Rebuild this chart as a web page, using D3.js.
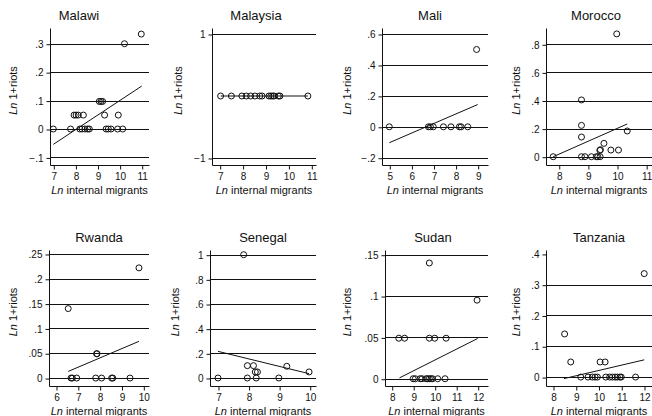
<!DOCTYPE html>
<html><head><meta charset="utf-8">
<script src="https://cdn.jsdelivr.net/npm/d3@7"></script>
<style>
body{margin:0;background:#fff;}
svg{display:block;font-family:"Liberation Sans",Arial,sans-serif;}
</style></head>
<body><svg id="c" width="652" height="416"></svg>
<script>
// ---- data ----
const countries = ["Malawi","Malaysia","Mali","Morocco","Rwanda","Senegal","Sudan","Tanzania"];

const malawiX = [7.0,7.78,8.2,8.3,8.43,8.55,8.63,9.39,9.49,9.61,9.91,10.14,7.94,8.03,8.13,8.36,9.32,9.94,9.08,9.16,9.23,10.22,10.98];
const malawiY = [0,0,0,0,0,0,0,0,0,0,0,0,0.049,0.049,0.049,0.049,0.049,0.049,0.097,0.097,0.097,0.3,0.334];
const malaysiaX = [7.04,7.51,7.97,8.16,8.35,8.54,8.75,8.85,9.15,9.23,9.31,9.37,9.56,9.63,10.85];
const malaysiaY = [0,0,0,0,0,0,0,0,0,0,0,0,0,0,0];
const maliX = [5.0,6.77,6.86,6.99,7.45,7.79,8.17,8.25,8.55,8.95];
const maliY = [0,0,0,0,0,0,0,0,0,0.5];
const moroccoX = [7.81,8.78,8.9,9.12,9.29,9.34,9.42,8.78,8.78,8.78,9.41,9.43,9.55,9.79,10.05,9.99,10.35];
const moroccoY = [0,0,0,0,0,0,0,0.404,0.223,0.14,0.045,0.05,0.095,0.0475,0.0475,0.874,0.183];
const rwandaX = [6.56,6.69,6.75,6.95,7.86,7.88,7.82,8.09,8.55,8.6,9.39,9.8];
const rwandaY = [0.14,0,0,0,0.049,0.049,0,0,0,0,0,0.222];
const senegalX = [7.84,7.0,7.96,8.25,8.99,7.96,8.16,8.22,8.29,9.25,9.98];
const senegalY = [1.0,0,0,0,0,0.1,0.1,0.049,0.049,0.095,0.049];
const sudanX = [8.33,8.6,9.75,10.0,10.53,9.0,9.1,9.32,9.41,9.6,9.67,9.75,9.83,9.9,10.14,10.48,9.75,11.97];
const sudanY = [0.049,0.049,0.049,0.049,0.049,0,0,0,0,0,0,0,0,0,0,0,0.14,0.095];
const tanzaniaX = [12.01,8.51,8.78,10.07,10.29,9.22,9.54,9.73,9.85,9.95,10.32,10.49,10.61,10.73,10.83,10.94,11.0,11.63];
const tanzaniaY = [0.336,0.14,0.049,0.049,0.049,0,0,0,0,0,0,0,0,0,0,0,0,0];

// fitted lines: [x0, y0, x1, y1]
const fitMalawi = [7.0,-0.054,11.0,0.151];
const fitMalaysia = [7.04,0,10.85,0];
const fitMali = [5.0,-0.103,9.0,0.144];
const fitMorocco = [7.81,0.0,10.35,0.233];
const fitRwanda = [6.56,0.0134,9.8,0.074];
const fitSenegal = [7.0,0.216,9.98,0.035];
const fitSudan = [8.36,0.001,12.0,0.0487];
const fitTanzania = [8.48,-0.005,12.01,0.056];

// tick values and labels
const xTicks = [[7,8,9,10,11],[7,8,9,10,11],[5,6,7,8,9],[8,9,10,11],[6,7,8,9,10],[7,8,9,10],[8,9,10,11,12],[8,9,10,11,12]];
const yTicks = [[-0.1,0,0.1,0.2,0.3],[-1,1],[-0.2,0,0.2,0.4,0.6],[0,0.2,0.4,0.6,0.8],[0,0.05,0.1,0.15,0.2,0.25],[0,0.2,0.4,0.6,0.8,1],[0,0.05,0.1,0.15],[0,0.1,0.2,0.3,0.4]];
const yTickLabels = [["\u2212.1","0",".1",".2",".3"],["\u22121","1"],["\u2212.2","0",".2",".4",".6"],["0",".2",".4",".6",".8"],["0",".05",".1",".15",".2",".25"],["0",".2",".4",".6",".8","1"],["0",".05",".1",".15"],["0",".1",".2",".3",".4"]];
const gridVals = [[-0.1,0,0.1,0.2,0.3],[-1,1],[-0.2,0,0.2,0.4,0.6],[0,0.2,0.4,0.6,0.8],[0,0.05,0.1,0.15,0.2,0.25],[0,0.2,0.4,0.6,0.8,1],[0,0.05,0.1,0.15],[0,0.1,0.2,0.3]];

const xs = [malawiX,malaysiaX,maliX,moroccoX,rwandaX,senegalX,sudanX,tanzaniaX];
const ys = [malawiY,malaysiaY,maliY,moroccoY,rwandaY,senegalY,sudanY,tanzaniaY];
const fits = [fitMalawi,fitMalaysia,fitMali,fitMorocco,fitRwanda,fitSenegal,fitSudan,fitTanzania];

// ---- layout ----
const layout = [
  {l:50, r:149, t:28, b:165, xd:[6.85,11.33], yd:[-0.1266,0.3553], tx:79,  yt:17},
  {l:212,r:316, t:28, b:165, xd:[6.664,11.205], yd:[-1.113,1.097], tx:256, yt:182},
  {l:382,r:488, t:28, b:165, xd:[4.67,9.466], yd:[-0.247,0.639], tx:430, yt:351},
  {l:546,r:652, t:28, b:165, xd:[7.563,11.2], yd:[-0.059,0.916], tx:596, yt:520},
  {l:49, r:149, t:250,b:386, xd:[5.68,10.26], yd:[-0.016,0.258], tx:99,  yt:17},
  {l:210,r:316, t:250,b:386, xd:[6.738,10.206], yd:[-0.065,1.038], tx:263, yt:179},
  {l:385,r:488, t:250,b:386, xd:[7.688,12.479], yd:[-0.0088,0.1557], tx:433, yt:351},
  {l:546,r:652, t:250,b:386, xd:[7.692,12.352], yd:[-0.029,0.4127], tx:599, yt:520}
];

const svg = d3.select("#c");
const ink = "#111";

countries.forEach((name,i)=>{
  const L = layout[i];
  const x = d3.scaleLinear().domain(L.xd).range([L.l, L.r]);
  const y = d3.scaleLinear().domain(L.yd).range([L.b, L.t]);
  const g = svg.append("g");

  // gridlines
  g.selectAll("line.grid").data(gridVals[i]).join("line")
    .attr("x1", L.l).attr("x2", L.r)
    .attr("y1", d=>Math.round(y(d))+0.5).attr("y2", d=>Math.round(y(d))+0.5)
    .attr("stroke", ink).attr("stroke-width",1);

  // y axis
  const ya = d3.axisLeft(y).tickValues(yTicks[i]).tickSize(4).tickPadding(3)
    .tickFormat((d,k)=>yTickLabels[i][k]);
  const yg = g.append("g").attr("transform",`translate(${L.l+0.5},0.5)`).call(ya);
  yg.select(".domain").attr("d",`M0,${L.t}V${L.b}`).attr("stroke",ink);
  yg.selectAll(".tick line").attr("stroke",ink);
  yg.selectAll(".tick text").attr("font-size","10px").attr("fill",ink)
    .attr("font-family","Liberation Sans, Arial, sans-serif");

  // x axis
  const xa = d3.axisBottom(x).tickValues(xTicks[i]).tickSize(4).tickPadding(3).tickFormat(d3.format("d"));
  const xg = g.append("g").attr("transform",`translate(0.5,${L.b+0.5})`).call(xa);
  xg.select(".domain").attr("d",`M${L.l},0H${L.r}`).attr("stroke",ink);
  xg.selectAll(".tick line").attr("stroke",ink);
  xg.selectAll(".tick text").attr("font-size","10px").attr("fill",ink)
    .attr("font-family","Liberation Sans, Arial, sans-serif");

  // fitted line
  const f = fits[i];
  g.append("line")
    .attr("x1",x(f[0])).attr("y1",y(f[1])).attr("x2",x(f[2])).attr("y2",y(f[3]))
    .attr("stroke",ink).attr("stroke-width",1);

  // points
  g.selectAll("circle").data(xs[i].map((v,k)=>[v,ys[i][k]])).join("circle")
    .attr("cx",d=>x(d[0])).attr("cy",d=>y(d[1])).attr("r",3)
    .attr("fill","none").attr("stroke",ink).attr("stroke-width",1);

  // title
  g.append("text").attr("x",L.tx).attr("y",L.t-8).attr("text-anchor","middle")
    .attr("font-size","13px").attr("fill",ink).text(name);

  // x title
  const xt = g.append("text").attr("x",(L.l+L.r)/2).attr("y",L.b+29).attr("text-anchor","middle")
    .attr("font-size","11px").attr("fill",ink);
  xt.append("tspan").attr("font-style","italic").text("Ln");
  xt.append("tspan").text(" internal migrants");

  // y title
  const yt = g.append("text").attr("transform",`translate(${L.yt},${(L.t+L.b)/2-6}) rotate(-90)`)
    .attr("text-anchor","middle").attr("font-size","11px").attr("fill",ink);
  yt.append("tspan").attr("font-style","italic").text("Ln");
  yt.append("tspan").text(" 1+riots");
});
</script></body></html>
